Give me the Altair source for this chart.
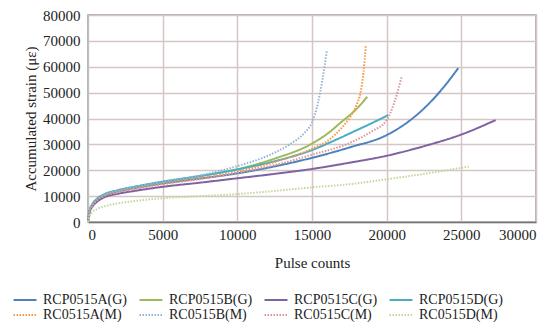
import altair as alt
import pandas as pd

series = ["RCP0515A(G)", "RCP0515B(G)", "RCP0515C(G)", "RCP0515D(G)",
          "RC0515A(M)", "RC0515B(M)", "RC0515C(M)", "RC0515D(M)"]
colors = ["#4F81BD", "#9BBB59", "#7E62A1", "#4BACC6",
          "#F79646", "#95B3D7", "#D99694", "#C3D69B"]

a_g_x = [0, 100, 300, 600, 1000, 2000, 3000, 5000, 7500, 10000, 12500, 15000, 17500, 20000, 21500, 22700, 23800, 24800]
a_g_y = [0, 4000, 6500, 8500, 10000, 11800, 13000, 14900, 16800, 18800, 21500, 24800, 28800, 33600, 39000, 45000, 52000, 59500]

b_g_x = [0, 100, 300, 600, 1000, 2000, 3000, 5000, 7500, 10000, 12500, 15000, 16000, 17000, 18000, 18700]
b_g_y = [0, 4200, 6800, 8800, 10300, 12200, 13400, 15400, 17700, 20400, 24500, 30300, 34000, 38800, 43800, 48400]

c_g_x = [0, 100, 300, 600, 1000, 2000, 3000, 5000, 7500, 10000, 12500, 15000, 17500, 20000, 22500, 25000, 27300]
c_g_y = [0, 3600, 6000, 7800, 9300, 10900, 11900, 13600, 15200, 16900, 18600, 20500, 22900, 25600, 29300, 33800, 39400]

d_g_x = [0, 100, 300, 600, 1000, 2000, 3000, 5000, 7500, 10000, 12500, 15000, 16500, 18000, 19000, 20100]
d_g_y = [0, 4300, 7000, 9000, 10500, 12300, 13500, 15600, 17800, 20300, 23500, 27800, 31500, 35500, 38200, 41300]

a_m_x = [0, 100, 300, 600, 1000, 2000, 3000, 5000, 7500, 10000, 12500, 15000, 16200, 17000, 17600, 18000, 18250, 18450, 18600]
a_m_y = [0, 4000, 6500, 8500, 10000, 11700, 12800, 14800, 16800, 19400, 23200, 28300, 32000, 36500, 41000, 45500, 50000, 58000, 68000]

b_m_x = [0, 100, 300, 600, 1000, 2000, 3000, 5000, 7500, 10000, 12000, 13500, 14500, 15000, 15400, 15700, 16000]
b_m_y = [0, 4200, 6800, 8800, 10300, 12200, 13400, 15500, 18000, 21600, 25500, 30000, 34500, 38500, 46000, 55000, 66500]

c_m_x = [0, 100, 300, 600, 1000, 2000, 3000, 5000, 7500, 10000, 12500, 15000, 17500, 19000, 20000, 20500, 21000]
c_m_y = [0, 3900, 6400, 8300, 9800, 11500, 12600, 14600, 16600, 19000, 22000, 26000, 30500, 35000, 39400, 46000, 56000]

d_m_x = [0, 100, 300, 600, 1000, 2000, 3000, 5000, 7500, 10000, 12500, 15000, 17500, 20000, 22500, 25500]
d_m_y = [0, 2000, 3800, 5000, 5900, 7200, 8000, 9200, 10000, 10800, 12000, 13400, 14600, 16500, 18600, 21400]

xs = [a_g_x, b_g_x, c_g_x, d_g_x, a_m_x, b_m_x, c_m_x, d_m_x]
ys = [a_g_y, b_g_y, c_g_y, d_g_y, a_m_y, b_m_y, c_m_y, d_m_y]

rows = []
for name, sx, sy in zip(series, xs, ys):
    for i, (x, y) in enumerate(zip(sx, sy)):
        rows.append({"series": name, "x": x, "y": y, "i": i})
df = pd.DataFrame(rows)

dashes = [[1, 0]] * 4 + [[1.5, 1.5]] * 4
widths = [2, 2, 2, 2, 1.5, 1.5, 1.5, 1.5]

font = "Liberation Serif"

lines = alt.Chart(df).mark_line(interpolate="monotone").encode(
    x=alt.X("x:Q", title="Pulse counts",
            scale=alt.Scale(domain=[0, 30000], nice=False),
            axis=alt.Axis(values=list(range(0, 30001, 5000)), format="d",
                          domainColor="#777777", domainWidth=1.5, ticks=False,
                          labelPadding=5, titlePadding=13,
                          gridColor="#d5c6c6", gridWidth=1.5)),
    y=alt.Y("y:Q", title="Accumulated strain (με)",
            scale=alt.Scale(domain=[0, 80000], nice=False),
            axis=alt.Axis(values=list(range(0, 80001, 10000)), format="d",
                          domainColor="#c0c0c0", ticks=False,
                          labelPadding=8, titlePadding=4,
                          gridColor="#d5c6c6", gridWidth=1.5)),
    color=alt.Color("series:N", title=None,
                    scale=alt.Scale(domain=series, range=colors),
                    legend=alt.Legend(orient="none", legendX=-70, legendY=278,
                                      columns=4, direction="horizontal",
                                      symbolType="M-2,0L2,0", symbolSize=132,
                                      symbolStrokeWidth=2, columnPadding=7,
                                      labelOffset=11,
                                      labelFontSize=14, labelFont=font,
                                      labelColor="#222222", rowPadding=1,
                                      labelLimit=200)),
    strokeDash=alt.StrokeDash("series:N", title=None,
                              scale=alt.Scale(domain=series, range=dashes)),
    strokeWidth=alt.StrokeWidth("series:N", title=None,
                                scale=alt.Scale(domain=series, range=widths),
                                legend=None),
    order="i:Q",
)

chart = lines.properties(
    width=448, height=207,
    autosize=alt.AutoSizeParams(type="none"),
    padding={"left": 80, "top": 7, "right": 13, "bottom": 100},
    background="white",
).configure_axis(
    labelFont=font, titleFont=font, labelFontSize=15, titleFontSize=15,
    titleFontWeight="normal", labelColor="#222222", titleColor="#222222",
).configure_view(
    stroke="#999999", strokeWidth=1.5,
)

chart.save("out.html", embed_options={"renderer": "svg", "actions": False})
